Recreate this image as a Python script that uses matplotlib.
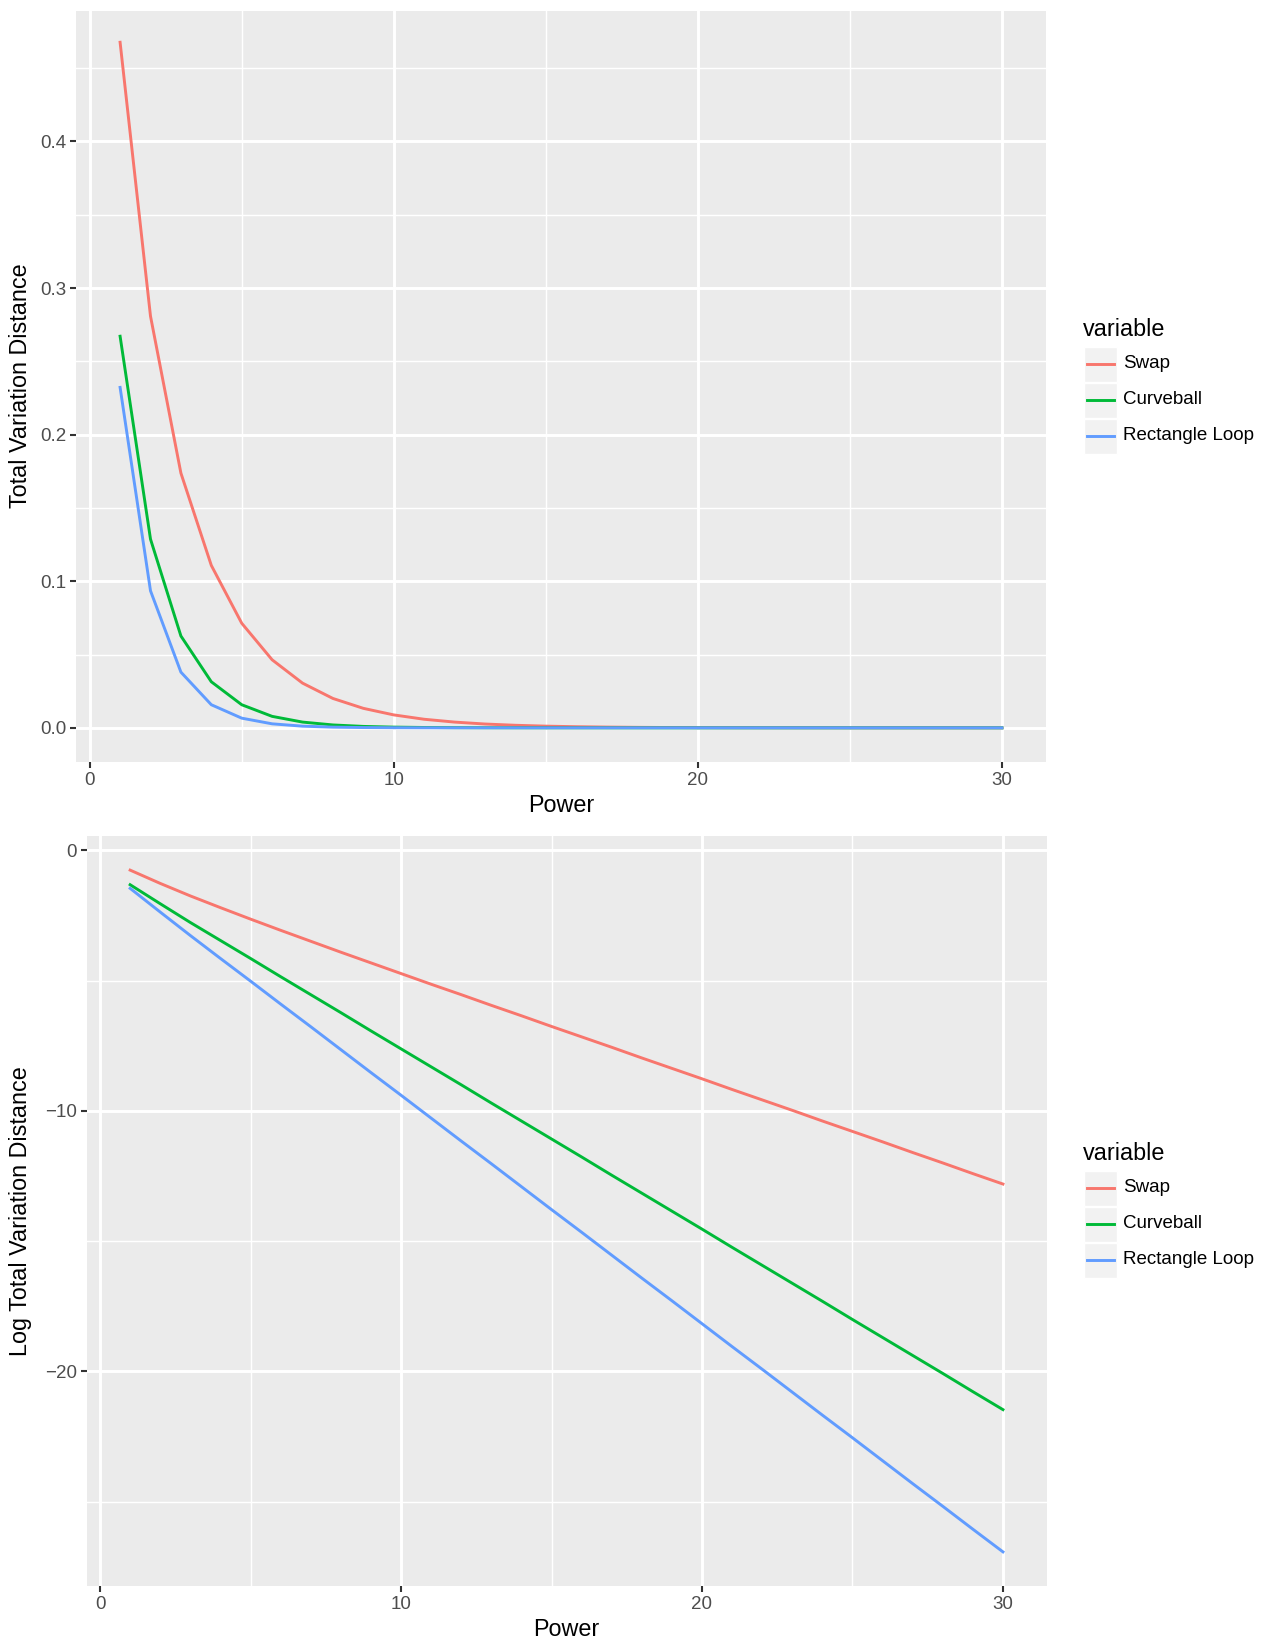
import numpy as np
import matplotlib
matplotlib.use("Agg")
import matplotlib.pyplot as plt
from matplotlib.patches import Rectangle
from matplotlib.lines import Line2D

plt.rcParams["font.family"] = ["Liberation Sans", "DejaVu Sans"]

power = list(range(1, 31))
series = ["Swap", "Curveball", "Rectangle Loop"]
colors = ["#F8766D", "#00BA38", "#619CFF"]

# log total variation distance
log_swap = [-0.76, -1.27, -1.75, -2.20, -2.64, -3.07, -3.49, -3.91, -4.32, -4.73,
            -5.14, -5.54, -5.95, -6.35, -6.76, -7.16, -7.56, -7.97, -8.37, -8.77,
            -9.18, -9.58, -9.98, -10.39, -10.79, -11.19, -11.60, -12.00, -12.41, -12.81]
log_curveball = [-1.32, -2.05, -2.77, -3.46, -4.15, -4.85, -5.54, -6.23, -6.93, -7.62,
                 -8.31, -9.00, -9.70, -10.39, -11.08, -11.77, -12.47, -13.16, -13.85, -14.54,
                 -15.24, -15.93, -16.62, -17.31, -18.01, -18.70, -19.39, -20.08, -20.78, -21.47]
log_rectloop = [-1.46, -2.37, -3.27, -4.15, -5.02, -5.90, -6.77, -7.65, -8.53, -9.40,
                -10.28, -11.16, -12.03, -12.91, -13.79, -14.66, -15.54, -16.42, -17.29, -18.17,
                -19.05, -19.92, -20.80, -21.68, -22.55, -23.43, -24.31, -25.18, -26.06, -26.93]
log_values = [log_swap, log_curveball, log_rectloop]

W, H = 1275, 1650
fig = plt.figure(figsize=(W / 100, H / 100), dpi=100)
fig.patch.set_facecolor("white")


def px_axes(left, top, right, bottom):
    return fig.add_axes([left / W, 1 - bottom / H, (right - left) / W, (bottom - top) / H])


def style(ax, yticks, ylabels, yminor):
    ax.set_facecolor("#EBEBEB")
    for s in ax.spines.values():
        s.set_visible(False)
    ax.set_xticks([0, 10, 20, 30])
    ax.set_xticklabels(["0", "10", "20", "30"])
    ax.set_yticks(yticks)
    ax.set_yticklabels(ylabels)
    for v in [5, 15, 25]:
        ax.axvline(v, color="white", lw=1.05, zorder=0.5)
    for v in yminor:
        ax.axhline(v, color="white", lw=1.05, zorder=0.5)
    ax.grid(True, color="white", lw=2.1, zorder=0.6)
    ax.set_axisbelow(True)
    ax.tick_params(length=4, width=1.5, color="#333333", labelcolor="#4D4D4D",
                   labelsize=13.5, pad=3)
    ax.set_xlim(-0.45, 31.45)


def legend(top_y):
    fig.text(1083 / W, 1 - (top_y + 9) / H, "variable", fontsize=16.8,
             va="center", ha="left")
    for i, (name, c) in enumerate(zip(series, colors)):
        y0 = top_y + 27 + i * 36
        fig.patches.append(Rectangle((1084 / W, 1 - (y0 + 35) / H), 33 / W, 35 / H,
                                     transform=fig.transFigure, facecolor="#F2F2F2",
                                     edgecolor="white", lw=1))
        yc = 1 - (y0 + 17) / H
        fig.lines.append(Line2D([1087 / W, 1114 / W], [yc, yc], transform=fig.transFigure,
                                color=c, lw=2.1))
        fig.text(1123 / W, yc, name, fontsize=13.5, va="center", ha="left")


# top panel
ax1 = px_axes(76, 11, 1046, 762)
for lv, c in zip(log_values, colors):
    ax1.plot(power, np.exp(lv), color=c, lw=2.1, zorder=3)
style(ax1, [0.0, 0.1, 0.2, 0.3, 0.4], ["0.0", "0.1", "0.2", "0.3", "0.4"],
      [0.05, 0.15, 0.25, 0.35, 0.45])
ax1.set_ylim(-0.0233, 0.489)
ax1.set_xlabel("Power", fontsize=16.8, labelpad=4)
fig.text(21 / W, 1 - 386 / H, "Total Variation Distance", fontsize=16.8,
         rotation=90, ha="center", va="center")
legend(320)

# bottom panel
ax2 = px_axes(86.5, 836, 1046.6, 1586)
for lv, c in zip(log_values, colors):
    ax2.plot(power, lv, color=c, lw=2.1, zorder=3)
style(ax2, [0, -10, -20], ["0", "\u221210", "\u221220"], [-5, -15, -25])
ax2.set_ylim(-28.24, 0.55)
ax2.set_xlabel("Power", fontsize=16.8, labelpad=4)
fig.text(21 / W, 1 - 1211 / H, "Log Total Variation Distance", fontsize=16.8,
         rotation=90, ha="center", va="center")
legend(1144)

fig.savefig("out.png", dpi=100, facecolor="white")
